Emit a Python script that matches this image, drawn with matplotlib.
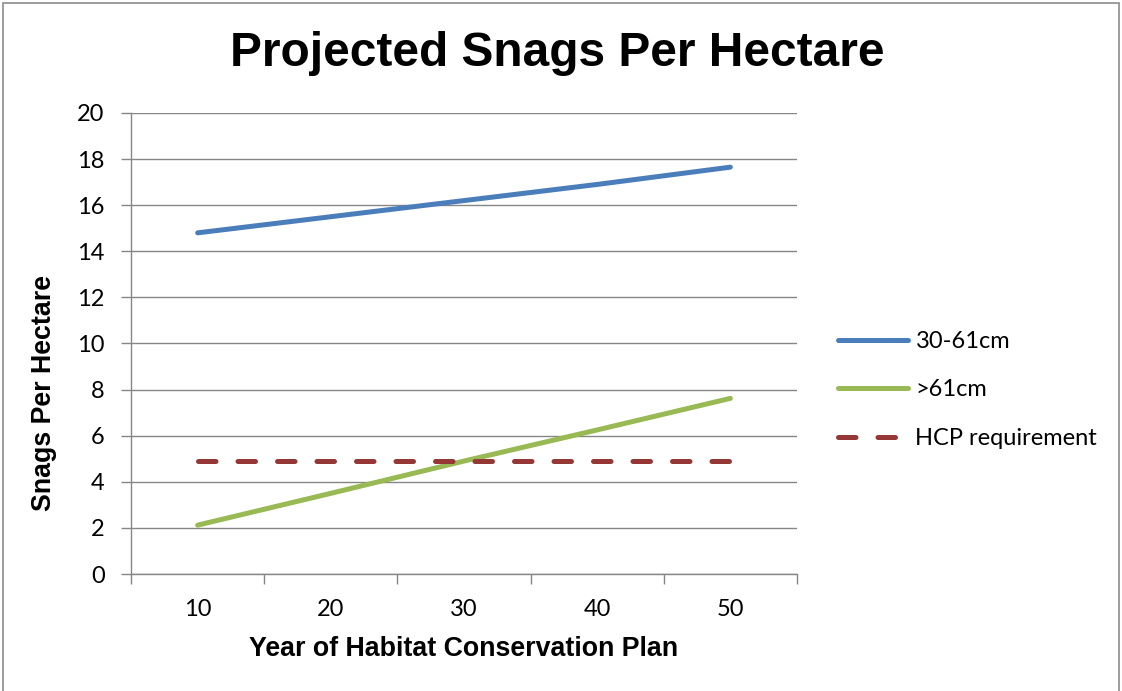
import matplotlib
matplotlib.use("Agg")
import matplotlib.pyplot as plt
from matplotlib.patches import Rectangle

years = [10, 20, 30, 40, 50]
snags_30_61 = [14.8, 15.5, 16.2, 16.9, 17.65]
snags_over_61 = [2.12, 3.5, 4.9, 6.25, 7.62]
hcp_requirement = [4.9, 4.9, 4.9, 4.9, 4.9]
y_ticks = [0, 2, 4, 6, 8, 10, 12, 14, 16, 18, 20]

tick_font = "Lato"
bold_font = "Liberation Sans"
grid_color = "#868686"
tick_size = 17

fig = plt.figure(figsize=(11.22, 6.91), dpi=100)
fig.patches.append(Rectangle((0.003, -0.01), 0.994, 1.006, transform=fig.transFigure,
                             fill=False, edgecolor="#8c8c8c", linewidth=1.2))

ax = fig.add_axes([0.1168, 0.1693, 0.5935, 0.6672])
pos = list(range(len(years)))

ax.plot(pos, snags_30_61, color="#4A7EBB", linewidth=3.6, solid_capstyle="round",
        label="30-61cm", zorder=3)
ax.plot(pos, snags_over_61, color="#98B954", linewidth=3.6, solid_capstyle="round",
        label=">61cm", zorder=3)
ax.plot(pos, hcp_requirement, color="#953735", linewidth=3.6, dashes=(3.5, 4.4),
        dash_capstyle="round", label="HCP requirement", zorder=3)

ax.set_xlim(-0.5, len(years) - 0.5)
ax.set_ylim(0, 20)
ax.set_yticks(y_ticks)
ax.set_yticklabels([str(v) for v in y_ticks], fontfamily=tick_font, fontsize=tick_size)
ax.set_xticks([p - 0.5 for p in pos] + [len(years) - 0.5])
ax.set_xticklabels([])
ax.set_xticks(pos, minor=True)
ax.set_xticklabels([str(y) for y in years], minor=True, fontfamily=tick_font,
                   fontsize=tick_size)
ax.tick_params(axis="x", which="minor", length=0, pad=18)
ax.tick_params(axis="x", which="major", length=7, color=grid_color, width=1)
ax.tick_params(axis="y", length=7, color=grid_color, width=1, pad=12)

ax.grid(axis="y", color=grid_color, linewidth=1)
ax.set_axisbelow(True)
for side in ("top", "right"):
    ax.spines[side].set_visible(False)
for side in ("left", "bottom"):
    ax.spines[side].set_color(grid_color)
    ax.spines[side].set_linewidth(1)

fig.text(0.4135, 1 - 649 / 691, "Year of Habitat Conservation Plan", ha="center",
         va="center", fontfamily=bold_font, fontweight="bold", fontsize=19.3)
fig.text(44 / 1122, 1 - 393 / 691, "Snags Per Hectare", ha="center", va="center",
         rotation=90, fontfamily=bold_font, fontweight="bold", fontsize=19.3)

fig.text(557 / 1122, 1 - 54 / 691, "Projected Snags Per Hectare", ha="center",
         va="center", fontfamily=bold_font, fontweight="bold", fontsize=34.5)

leg = fig.legend(loc="center left", bbox_to_anchor=(838 / 1122, 1 - 390 / 691),
                 frameon=False, prop={"family": tick_font, "size": tick_size},
                 handlelength=2.95, handletextpad=0.33, labelspacing=1.17,
                 borderpad=0, borderaxespad=0)

fig.savefig("out.png", dpi=100)
